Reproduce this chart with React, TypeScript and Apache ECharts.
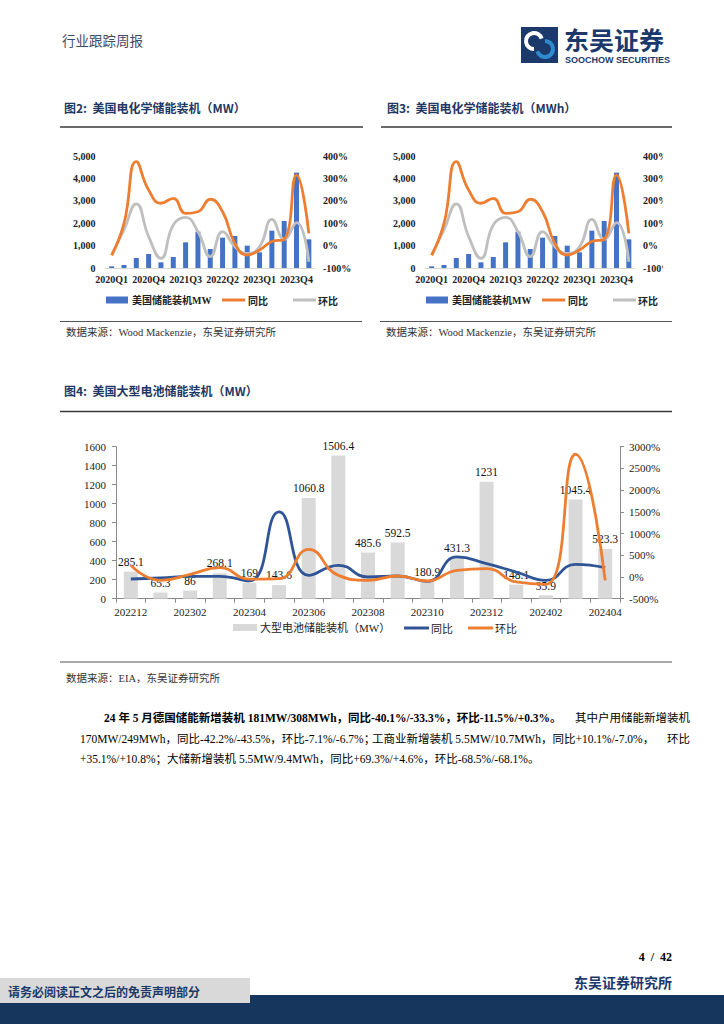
import React, { useEffect, useRef } from 'react';
import * as echarts from 'echarts';

// ---------- Data ----------
const quarters = ['2020Q1','2020Q2','2020Q3','2020Q4','2021Q1','2021Q2','2021Q3','2021Q4','2022Q1','2022Q2','2022Q3','2022Q4','2023Q1','2023Q2','2023Q3','2023Q4','2024Q1'];
const usInstall = [74, 134, 446, 625, 253, 491, 1146, 1622, 848, 1354, 1429, 997, 700, 1667, 2098, 4256, 1280];
const usYoY = [-43, 99, 375, 248, 189, 211, 144, 151, 207, 151, 10, -42, -20, 18, 28, 315, 55];
const usQoQ = [-43, 70, 186, 40, -57, 92, 126, 62, -49, 62, -5, -35, -5, 117, 28, 103, -72];

const months = ['202212','202301','202302','202303','202304','202305','202306','202307','202308','202309','202310','202311','202312','202401','202402','202403','202404'];
const largeBattery = [285.1, 65.3, 86, 268.1, 169, 143.6, 1060.8, 1506.4, 485.6, 592.5, 180.9, 431.3, 1231, 148.1, 35.9, 1045.4, 523.3];
const largeYoY = [-46, -23, 15, 15, -90, 1500, 38, 269, 0, 23, -100, 461, 307, 115, -77, 292, 215];
const largeQoQ = [269, -77, 61, 215, -50, -40, 637, 38, -77, 23, -92, 154, 192, -115, -170, 2826, -77];

const leftTicks2 = { min: 0, max: 5000, interval: 1000 };
const rightTicks2 = { min: -100, max: 400, interval: 100 };
const leftTicks4 = { min: 0, max: 1600, interval: 200 };
const rightTicks4 = { min: -500, max: 3000, interval: 500 };

// ---------- Styles ----------
const SERIF = '"Liberation Serif", "Noto Sans CJK SC", serif';
const CJK = '"Noto Sans CJK SC", "Liberation Serif", sans-serif';
const NAVY = '#1F3864';
const BLUE_BAR = '#4472C4';
const ORANGE = '#ED7D31';
const GREY_LINE = '#BFBFBF';
const DARK_BLUE = '#2F5597';
const GREY_BAR = '#D9D9D9';

function txt(text: string, x: number, y: number, o: any = {}) {
  return {
    type: 'text',
    z: 110,
    style: {
      text, x, y,
      fill: o.fill || '#000',
      fontSize: o.size || 11,
      fontWeight: o.weight || 'normal',
      fontFamily: o.family || SERIF,
      align: o.align || 'left',
      textAlign: o.align || 'left',
      verticalAlign: 'middle',
      textVerticalAlign: 'middle',
    },
  };
}
function rect(x: number, y: number, w: number, h: number, fill: string, z = 105) {
  return { type: 'rect', z, shape: { x, y, width: w, height: h }, style: { fill } };
}
function hline(x1: number, x2: number, y: number, color: string, w: number) {
  return { type: 'line', z: 105, shape: { x1, y1: y, x2, y2: y }, style: { stroke: color, lineWidth: w } };
}

export default function App() {
  const ref = useRef<HTMLDivElement>(null);
  useEffect(() => {
    if (!ref.current) return;
    const chart = echarts.init(ref.current, undefined, { renderer: 'svg' });

    const smallX = (gi: number) => ({
      type: 'category', gridIndex: gi, data: quarters,
      axisLine: { show: true, lineStyle: { color: '#D9D9D9', width: 1 } },
      axisTick: { show: false },
      axisLabel: { interval: 2, margin: 6, fontSize: 10, fontWeight: 'bold', fontFamily: SERIF, color: '#222' },
    });
    const smallYL = (gi: number) => ({
      type: 'value', gridIndex: gi, ...leftTicks2,
      axisLine: { show: false }, axisTick: { show: false }, splitLine: { show: false },
      axisLabel: { margin: 10, fontSize: 10, fontWeight: 'bold', fontFamily: SERIF, color: '#222',
        formatter: (v: number) => v.toLocaleString('en-US') },
    });
    const smallYR = (gi: number) => ({
      type: 'value', gridIndex: gi, position: 'right', ...rightTicks2,
      axisLine: { show: false }, axisTick: { show: false }, splitLine: { show: false },
      axisLabel: { margin: 8, fontSize: 10, fontWeight: 'bold', fontFamily: SERIF, color: '#222',
        formatter: (v: number) => String(v) + '%' },
    });
    const smallSeries = (xi: number, yl: number, yr: number) => ([
      { name: '美国储能装机MW', type: 'bar', xAxisIndex: xi, yAxisIndex: yl, data: usInstall, barWidth: 5,
        itemStyle: { color: BLUE_BAR }, z: 2 },
      { name: '同比', type: 'line', xAxisIndex: xi, yAxisIndex: yr, data: usYoY, smooth: true, showSymbol: false,
        lineStyle: { color: ORANGE, width: 2.8 }, itemStyle: { color: ORANGE }, z: 4 },
      { name: '环比', type: 'line', xAxisIndex: xi, yAxisIndex: yr, data: usQoQ, smooth: true, showSymbol: false,
        lineStyle: { color: GREY_LINE, width: 2.8 }, itemStyle: { color: GREY_LINE }, z: 3 },
    ]);

    const axisGrey = '#898989';
    const bigFont = { fontSize: 11, fontFamily: SERIF, color: '#222' };

    const smallLegend = (dx: number) => ([
      rect(106 + dx, 296.5, 22, 7, BLUE_BAR),
      txt('美国储能装机MW', 132 + dx, 300, { size: 10, weight: 'bold', family: SERIF, fill: '#222' }),
      rect(222 + dx, 298.5, 23, 3, ORANGE),
      txt('同比', 248 + dx, 300, { size: 10, weight: 'bold', family: CJK, fill: '#222' }),
      rect(293 + dx, 298.5, 23, 3, GREY_LINE),
      txt('环比', 318 + dx, 300, { size: 10, weight: 'bold', family: CJK, fill: '#222' }),
    ]);

    const graphics: any[] = [
      // header
      txt('行业跟踪周报', 62, 40, { size: 13.5, family: CJK, fill: '#3E4A66' }),
      rect(521, 27, 37, 36, '#1B3A6B'),
      { type: 'arc', z: 106, shape: { cx: 534, cy: 41, r: 8, startAngle: Math.PI * 0.5, endAngle: Math.PI * 1.9 },
        style: { stroke: '#FFFFFF', lineWidth: 4, fill: 'none' } },
      { type: 'arc', z: 106, shape: { cx: 545, cy: 49, r: 8, startAngle: -Math.PI * 0.5, endAngle: Math.PI * 0.9 },
        style: { stroke: '#2E8BD0', lineWidth: 4, fill: 'none' } },
      txt('东吴证券', 564, 38.5, { size: 25, weight: 'bold', family: CJK, fill: '#1B3A6B' }),
      txt('SOOCHOW SECURITIES', 565, 59.5, { size: 9, weight: 'bold', family: '"Liberation Sans", sans-serif', fill: '#1B3A6B' }),

      // figure titles
      txt('图2:  美国电化学储能装机（MW）', 64, 107, { size: 12, weight: 'bold', family: CJK, fill: NAVY }),
      txt('图3:  美国电化学储能装机（MWh）', 387, 107, { size: 12, weight: 'bold', family: CJK, fill: NAVY }),
      hline(60, 363, 127, '#3A3A3A', 1.5),
      hline(381, 672, 127, '#3A3A3A', 1.5),

      // clip of fig3 right labels
      rect(663, 145, 61, 130, '#FFFFFF', 100),

      ...smallLegend(0),
      ...smallLegend(320),

      hline(60, 362, 321.5, '#555', 1),
      hline(380, 672, 321.5, '#555', 1),
      txt('数据来源：Wood Mackenzie，东吴证券研究所', 66, 332, { size: 10.5, family: SERIF, fill: '#333' }),
      txt('数据来源：Wood Mackenzie，东吴证券研究所', 386, 332, { size: 10.5, family: SERIF, fill: '#333' }),

      // fig 4
      txt('图4:  美国大型电池储能装机（MW）', 64, 390, { size: 12, weight: 'bold', family: CJK, fill: NAVY }),
      hline(60, 672, 411.5, '#3A3A3A', 1.5),
      rect(233, 624, 24, 7, GREY_BAR),
      txt('大型电池储能装机（MW）', 260, 628, { size: 11, family: SERIF, fill: '#222' }),
      rect(404, 626.5, 25, 3, DARK_BLUE),
      txt('同比', 431, 628, { size: 11, family: CJK, fill: '#222' }),
      rect(468, 626.5, 25, 3, ORANGE),
      txt('环比', 495, 628, { size: 11, family: CJK, fill: '#222' }),
      hline(60, 672, 662, '#555', 1),
      txt('数据来源：EIA，东吴证券研究所', 66, 678, { size: 10.5, family: SERIF, fill: '#333' }),

      // paragraph
      txt('24 年 5 月德国储能新增装机 181MW/308MWh，同比-40.1%/-33.3%，环比-11.5%/+0.3%。', 104, 718,
        { size: 11.5, weight: 'bold', family: SERIF, fill: '#000' }),
      txt('其中户用储能新增装机', 690, 718, { size: 11.5, family: SERIF, fill: '#000', align: 'right' }),
      txt('170MW/249MWh，同比-42.2%/-43.5%，环比-7.1%/-6.7%；', 80, 738.5, { size: 11.5, family: SERIF, fill: '#000' }),
      txt('工商业新增装机 5.5MW/10.7MWh，同比+10.1%/-7.0%，', 372, 738.5, { size: 11.5, family: SERIF, fill: '#000' }),
      txt('环比', 690, 738.5, { size: 11.5, family: SERIF, fill: '#000', align: 'right' }),
      txt('+35.1%/+10.8%；大储新增装机 5.5MW/9.4MWh，同比+69.3%/+4.6%，环比-68.5%/-68.1%。', 80, 759,
        { size: 11.5, family: SERIF, fill: '#000' }),

      // footer
      txt('4  /  42', 672, 957, { size: 12, weight: 'bold', family: SERIF, fill: '#000', align: 'right' }),
      txt('东吴证券研究所', 672, 982, { size: 14, weight: 'bold', family: CJK, fill: '#1B3A6B', align: 'right' }),
      rect(0, 995, 724, 29, '#17365D'),
      rect(0, 978, 250, 25, '#D9D9D9'),
      txt('请务必阅读正文之后的免责声明部分', 8, 991, { size: 12, weight: 'bold', family: CJK, fill: '#1B3A6B' }),
    ];

    const option: any = {
      animation: false,
      backgroundColor: '#FFFFFF',
      grid: [
        { left: 105.5, top: 156, width: 209.5, height: 112 },
        { left: 425.5, top: 156, width: 209.5, height: 112 },
        { left: 116, top: 446.7, width: 504, height: 152 },
      ],
      xAxis: [
        smallX(0),
        smallX(1),
        {
          type: 'category', gridIndex: 2, data: months,
          axisLine: { show: true, lineStyle: { color: axisGrey, width: 1 } },
          axisTick: { show: true, interval: 0, alignWithLabel: false, length: 4, lineStyle: { color: axisGrey } },
          axisLabel: { interval: 1, margin: 8, ...bigFont },
        },
      ],
      yAxis: [
        smallYL(0), smallYR(0), smallYL(1), smallYR(1),
        {
          type: 'value', gridIndex: 2, ...leftTicks4,
          axisLine: { show: true, lineStyle: { color: axisGrey, width: 1 } },
          axisTick: { show: true, length: 4, lineStyle: { color: axisGrey } },
          splitLine: { show: false },
          axisLabel: { margin: 10, ...bigFont, formatter: (v: number) => String(v) },
        },
        {
          type: 'value', gridIndex: 2, position: 'right', ...rightTicks4,
          axisLine: { show: true, lineStyle: { color: axisGrey, width: 1 } },
          axisTick: { show: true, length: 4, lineStyle: { color: axisGrey } },
          splitLine: { show: false },
          axisLabel: { margin: 9, ...bigFont, formatter: (v: number) => String(v) + '%' },
        },
      ],
      series: [
        ...smallSeries(0, 0, 1),
        ...smallSeries(1, 2, 3),
        {
          name: '大型电池储能装机（MW）', type: 'bar', xAxisIndex: 2, yAxisIndex: 4, data: largeBattery,
          barWidth: 14, itemStyle: { color: GREY_BAR }, z: 2,
          label: { show: true, position: 'top', distance: 4, fontSize: 11.5, fontFamily: SERIF, color: '#111' },
        },
        {
          name: '同比', type: 'line', xAxisIndex: 2, yAxisIndex: 5, data: largeYoY, smooth: true, showSymbol: false,
          lineStyle: { color: DARK_BLUE, width: 2.8 }, itemStyle: { color: DARK_BLUE }, z: 4,
        },
        {
          name: '环比', type: 'line', xAxisIndex: 2, yAxisIndex: 5, data: largeQoQ, smooth: true, showSymbol: false,
          lineStyle: { color: ORANGE, width: 2.8 }, itemStyle: { color: ORANGE }, z: 5,
        },
      ],
      graphic: { elements: graphics },
    };
    chart.setOption(option);
    return () => chart.dispose();
  }, []);

  return (
    <div
      ref={ref}
      style={{ position: 'absolute', left: 0, top: 0, width: 724, height: 1024, background: '#fff' }}
    />
  );
}
